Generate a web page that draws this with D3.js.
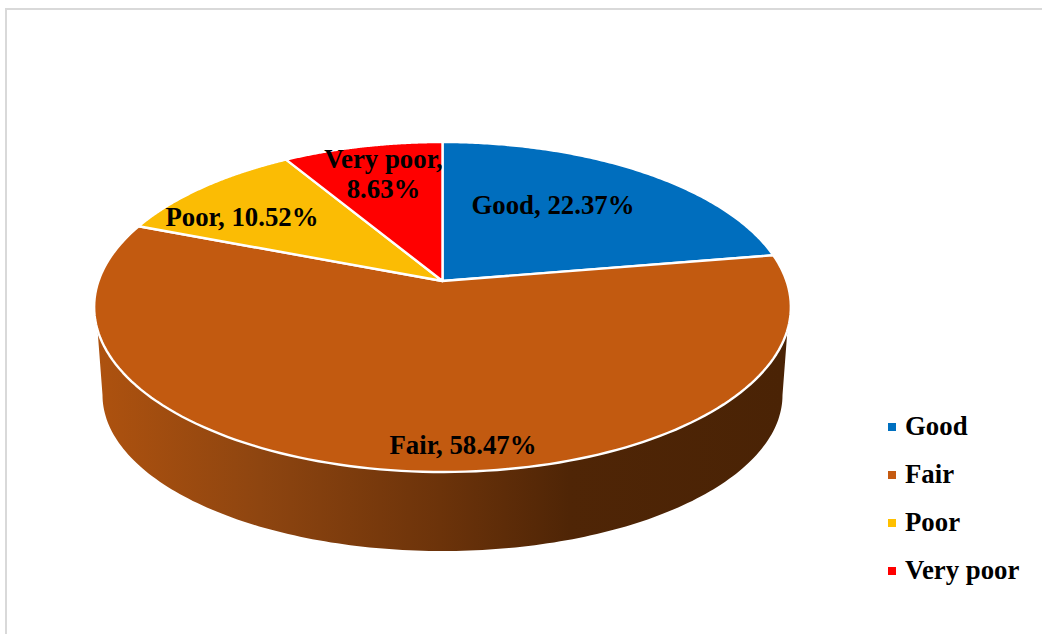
<!DOCTYPE html>
<html>
<head>
<meta charset="utf-8">
<script src="https://cdn.jsdelivr.net/npm/d3@7"></script>
<style>
  html, body { margin: 0; padding: 0; background: #fff; }
  svg { display: block; }
  text { font-family: "Liberation Serif", "Times New Roman", serif; font-weight: bold; fill: #000; }
</style>
</head>
<body>
<svg id="chart" width="1042" height="634"></svg>
<script>
// Survey ratings, in percent
const categories = ["Good", "Fair", "Poor", "Very poor"];
const shares = [22.37, 58.47, 10.52, 8.63];
const keyColors = ["#0070C0", "#C55A11", "#FFC000", "#FF0000"];
const faceColors = ["#006EBE", "#C25A10", "#FBBC04", "#FF0000"];
// Label block centres and line splits for the slice captions
const labelLines = [
  ["Good, 22.37%"],
  ["Fair, 58.47%"],
  ["Poor, 10.52%"],
  ["Very poor,", "8.63%"]
];
const labelCentres = [[553, 206], [463, 446], [242, 218], [383.5, 160]];

const W = 1042, H = 634;
const svg = d3.select("#chart").attr("viewBox", [0, 0, W, H]);

// Panel border: only the left and top edges fall inside the page
svg.append("path")
  .attr("d", "M6,634V9H1042")
  .attr("fill", "none")
  .attr("stroke", "#D9D9D9")
  .attr("stroke-width", 2);

// Tilted disc: a unit circle seen in perspective, so the pie's apex sits
// above the middle of the ellipse it projects to
const apex = { x: 442.5, y: 281 };
const persp = { a: 344, b: 160.9, k: -0.1576 };
function project(angle) {
  const u = Math.sin(angle), v = -Math.cos(angle);
  const w = 1 + persp.k * v;
  return [apex.x + persp.a * u / w, apex.y + persp.b * v / w];
}
// Lower rim of the cylinder
const rim = { cx: 442.5, cy: 395, rx: 340, ry: 156 };
const rimPoint = a => [rim.cx + rim.rx * Math.sin(a), rim.cy - rim.ry * Math.cos(a)];

const line = d3.line();
const arcs = d3.pie().value(d => d).sort(null)(shares);
const sample = (a0, a1, n) => d3.range(n + 1).map(i => a0 + (a1 - a0) * i / n);

// Side wall belongs to the Fair slice, the only one facing front
const defs = svg.append("defs");
const wallStops = [
  [96, "#AE520F"], [260, "#8E4510"], [440, "#6C330A"], [570, "#4F2506"], [783, "#4A2305"]
];
const grad = defs.append("linearGradient")
  .attr("id", "wall").attr("gradientUnits", "userSpaceOnUse")
  .attr("x1", 96).attr("x2", 783).attr("y1", 0).attr("y2", 0);
wallStops.forEach(([x, c]) => grad.append("stop")
  .attr("offset", (x - 96) / (783 - 96)).attr("stop-color", c));

const wallFrom = Math.acos(-0.2906);
const wallTo = 2 * Math.PI - wallFrom;
const wallPts = sample(wallFrom, wallTo, 160).map(project)
  .concat(sample(1.5 * Math.PI, 0.5 * Math.PI, 160).map(rimPoint));
svg.append("path")
  .attr("d", line(wallPts) + "Z")
  .attr("fill", "url(#wall)");

// Top face of each slice
svg.append("g").selectAll("path")
  .data(arcs)
  .join("path")
  .attr("d", d => line([[apex.x, apex.y], ...sample(d.startAngle, d.endAngle, 140).map(project)]) + "Z")
  .attr("fill", (d, i) => faceColors[i])
  .attr("stroke", "#fff")
  .attr("stroke-width", 2.4)
  .attr("stroke-linejoin", "round");

// Slice captions
const labelSize = 26.8;
svg.append("g").selectAll("text")
  .data(labelLines)
  .join("text")
  .attr("font-size", labelSize)
  .attr("text-anchor", "middle")
  .each(function (lines, i) {
    d3.select(this).selectAll("tspan")
      .data(lines)
      .join("tspan")
      .attr("x", labelCentres[i][0])
      .attr("y", (d, j) => labelCentres[i][1] + 8 + j * 29.5)
      .text(d => d);
  });

// Legend
const legendY = d3.scalePoint().domain(categories).range([427, 571]);
const legend = svg.append("g").selectAll("g")
  .data(categories)
  .join("g")
  .attr("transform", d => `translate(888,${legendY(d)})`);
legend.append("rect")
  .attr("x", 0).attr("y", -4).attr("width", 8).attr("height", 8)
  .attr("fill", (d, i) => keyColors[i]);
legend.append("text")
  .attr("x", 17).attr("y", 8)
  .attr("font-size", labelSize)
  .text(d => d);
</script>
</body>
</html>
